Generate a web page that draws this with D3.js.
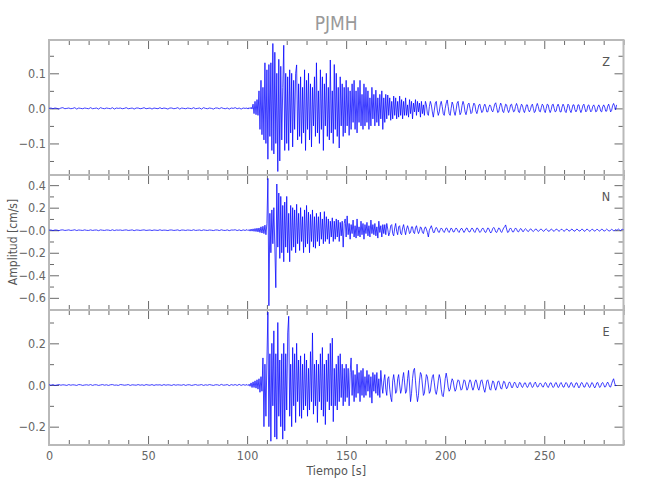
<!DOCTYPE html>
<html><head><meta charset="utf-8">
<script src="https://cdn.jsdelivr.net/npm/d3@7"></script>
<style>
body{margin:0;background:#fff}
text{font-family:"DejaVu Sans","Liberation Sans",sans-serif;font-stretch:condensed;}
</style>
</head><body><svg id="c" width="650" height="500"></svg>
<script>
// ---------- data ----------
const title = "PJMH";
const xLabel = "Tiempo [s]";
const yLabel = "Amplitud [cm/s]";
const components = ["Z", "N", "E"];
const quietStep = 1;        // seconds, samples 0..99 s
const activeStart = 100;    // seconds
const activeStep = 0.5;     // seconds

const zQuiet = [0,0.001,-0.001,0.001,0,-0.002,0.001,0.002,-0.001,0,
0.001,-0.001,0,0.002,-0.002,0.001,0,-0.001,0.001,0,
-0.001,0.002,-0.001,0,0.001,-0.002,0.002,0,-0.001,0.001,
0,-0.001,0.002,-0.002,0.001,0,0.001,-0.001,0,0.002,
-0.001,0,0.001,-0.002,0.001,0.001,-0.001,0,0.002,-0.001,
0,0.001,-0.002,0.001,0,-0.001,0.002,-0.001,0.001,0,
-0.002,0.001,0.001,-0.001,0,0.002,-0.002,0.001,0,-0.001,
0.001,0,-0.001,0.002,-0.001,0,0.001,-0.002,0.002,0,
-0.001,0.001,0,-0.002,0.001,0.001,-0.001,0.002,0,-0.001,
0.001,-0.002,0.001,0,0.002,-0.001,0.001,-0.002,0.001,0];
const zActive = [0.001,-0.002,0.002,-0.001,0.003,-0.002,0.012,-0.015,0.02,-0.018,
0.025,-0.02,0.05,-0.06,0.08,-0.075,0.06,-0.09,0.13,-0.1,
0.11,-0.145,0.125,-0.08,0.13,-0.12,0.185,-0.13,0.16,-0.1,
0.1,-0.18,0.14,-0.15,0.12,-0.09,0.06,0.18,-0.12,0.1,
-0.1,0.09,-0.12,0.11,-0.07,0.1,-0.11,0.08,-0.06,0.1,
0.124,-0.09,0.07,-0.08,0.09,-0.1,0.06,-0.07,0.11,-0.12,
0.08,-0.06,0.1,-0.09,0.07,-0.11,0.06,-0.05,0.09,-0.08,
0.13,-0.07,0.05,-0.1,0.11,-0.06,0.09,-0.12,0.07,-0.05,
0.1,-0.08,0.06,-0.09,0.138,-0.07,0.05,-0.1,0.125,-0.06,
0.1,-0.08,0.06,-0.113,0.09,-0.05,0.07,-0.08,0.06,-0.07,
0.08,-0.05,0.06,-0.077,0.05,-0.06,0.07,-0.04,0.08,-0.06,
0.05,-0.07,0.06,-0.04,0.08,-0.05,0.04,-0.06,0.07,-0.05,
0.06,-0.04,0.05,-0.06,0.03,-0.05,0.06,-0.03,0.04,-0.05,
0.052,-0.04,0.03,-0.05,0.04,-0.03,0.05,-0.06,0.03,-0.04,
0.04,-0.03,0.038,-0.02,0.03,-0.034,0.02,-0.03,0.035,-0.02,
0.03,-0.03,0.02,-0.025,0.035,-0.02,0.025,-0.03,0.02,-0.02,
0.03,-0.02,0.01,-0.025,0.025,-0.015,0.02,-0.03,0.015,-0.01,
0.025,-0.02,0.02,-0.01,0.015,-0.025,0.02,-0.015,0.01,-0.02,
0.02,0.01,-0.015,-0.02,0.005,0.02,0.01,-0.01,-0.025,-0.005,
0.015,0.02,-0.005,-0.02,-0.01,0.01,0.02,0.005,-0.015,-0.02,
0.0,0.015,0.024,0.005,-0.015,-0.02,0.0,0.018,0.01,-0.01,
-0.02,-0.005,0.015,0.02,0.0,-0.018,-0.012,0.008,0.02,0.01,
-0.01,-0.018,-0.005,0.012,0.015,0.0,-0.015,-0.012,0.005,0.015,
0.01,-0.008,-0.015,-0.003,0.01,0.012,-0.002,-0.012,-0.008,0.006,
0.012,0.004,-0.01,-0.01,0.003,0.01,0.006,-0.006,-0.01,0.0,
0.012,0.016,0.002,-0.012,-0.01,0.005,0.015,0.008,-0.008,-0.012,
0.0,0.012,0.01,-0.004,-0.012,-0.004,0.01,0.012,0.0,-0.01,
-0.008,0.006,0.014,0.006,-0.01,-0.012,0.002,0.012,0.008,-0.006,
-0.012,-0.002,0.01,0.01,-0.004,-0.01,-0.004,0.008,0.012,0.0,
-0.012,-0.008,0.006,0.014,0.005,-0.008,-0.01,0.002,0.012,0.008,
-0.006,-0.012,0.0,0.012,0.01,-0.004,-0.012,-0.004,0.01,0.012,
0.0,-0.01,-0.008,0.006,0.012,0.004,-0.01,-0.01,0.004,0.012,
0.006,-0.008,-0.012,0.0,0.012,0.008,-0.006,-0.012,-0.002,0.01,
0.01,-0.004,-0.01,-0.004,0.01,0.01,-0.004,-0.012,-0.004,0.008,
0.012,0.0,-0.01,-0.006,0.008,0.01,-0.002,-0.01,-0.006,0.006,
0.01,0.002,-0.01,-0.008,0.004,0.01,0.004,-0.008,-0.01,0.004,
0.01,0.004,-0.008,-0.008,0.006,0.012,0.002,-0.01,-0.006,0.008,
0.014,0.006,-0.004,0.01];

const nQuiet = [0,0.002,-0.003,0.002,0.001,-0.004,0.002,0.003,-0.002,0,
0.003,-0.002,0,0.004,-0.003,0.002,0,-0.002,0.003,-0.001,
-0.002,0.003,-0.002,0.001,0.002,-0.004,0.003,0,-0.002,0.002,
0.001,-0.003,0.004,-0.003,0.002,0,0.002,-0.002,0.001,0.003,
-0.002,0,0.003,-0.004,0.002,0.001,-0.002,0.001,0.003,-0.002,
0,0.002,-0.003,0.002,0,-0.002,0.004,-0.002,0.001,0,
-0.003,0.002,0.002,-0.002,0,0.003,-0.004,0.002,0.001,-0.002,
0.002,0,-0.002,0.004,-0.002,0,0.002,-0.003,0.003,0,
-0.002,0.002,0,-0.003,0.002,0.002,-0.003,0.004,-0.001,-0.002,
0.003,-0.004,0.002,0.001,0.004,-0.003,0.003,-0.004,0.003,-0.002];
const nActive = [0.005,-0.004,0.006,-0.008,0.01,-0.008,0.012,-0.01,0.015,-0.012,
0.018,-0.015,0.02,-0.02,0.03,-0.025,0.035,-0.03,0.045,-0.04,
0.06,0.46,-0.67,0.15,-0.2,0.18,-0.12,0.2,-0.15,-0.51,
0.41,-0.15,0.33,-0.25,0.3,-0.2,0.22,-0.28,0.25,-0.15,
0.3,-0.2,0.15,-0.28,0.22,-0.18,0.2,-0.15,0.18,-0.2,
0.23,-0.12,0.15,-0.18,0.2,-0.1,0.12,-0.2,0.18,-0.15,
0.22,-0.12,0.16,-0.2,0.14,-0.1,0.18,-0.15,0.12,-0.16,
0.15,-0.1,0.12,-0.14,0.16,-0.08,0.1,-0.12,0.165,-0.1,
0.12,-0.08,0.1,-0.12,0.08,-0.06,0.11,-0.1,0.08,-0.08,
0.1,-0.06,0.09,-0.1,0.07,-0.05,0.08,-0.15,0.06,0.1,
-0.06,0.127,-0.04,0.06,-0.08,0.05,-0.03,0.09,-0.06,0.04,
-0.07,0.1,-0.05,0.03,-0.06,0.08,-0.04,0.06,-0.08,0.05,
-0.03,0.07,-0.05,0.04,-0.06,0.09,-0.03,0.05,-0.04,0.06,
-0.05,0.03,-0.07,0.08,-0.02,0.04,-0.06,0.05,-0.03,0.05,
-0.04,0.06,0.01,-0.05,-0.02,0.04,0.05,-0.03,-0.05,0.02,
0.06,-0.01,-0.04,0.03,0.04,-0.03,-0.04,0.02,0.05,0.0,
-0.04,0.01,0.04,0.01,-0.03,-0.02,0.03,0.03,-0.02,-0.03,
0.02,0.04,0.0,-0.03,-0.01,0.03,0.02,-0.02,-0.03,0.01,
0.03,0.01,-0.02,-0.06,0.0,0.02,0.04,0.01,-0.02,-0.02,
0.01,0.025,0.01,-0.015,-0.02,0.005,0.02,0.01,-0.01,-0.02,
0.0,0.02,0.015,-0.01,-0.02,0.0,0.02,0.01,-0.015,-0.015,
0.005,0.02,0.01,-0.01,-0.02,0.0,0.015,0.015,-0.005,-0.02,
-0.005,0.015,0.02,0.0,-0.015,-0.015,0.005,0.02,0.01,-0.01,
-0.02,0.0,0.02,0.015,-0.005,-0.02,-0.01,0.01,0.02,0.005,
-0.015,-0.02,0.0,0.02,0.015,-0.01,-0.025,-0.01,0.015,0.025,
0.01,-0.015,-0.02,0.0,0.02,0.015,-0.01,-0.02,0.0,0.02,
0.03,0.047,0.01,-0.02,-0.015,0.01,0.02,0.005,-0.015,-0.015,
0.005,0.02,0.01,-0.01,-0.015,0.0,0.015,0.01,-0.01,-0.012,
0.004,0.014,0.006,-0.008,-0.012,0.0,0.012,0.008,-0.006,-0.012,
-0.002,0.01,0.01,-0.004,-0.01,-0.004,0.008,0.01,0.0,-0.01,
-0.006,0.006,0.012,0.004,-0.008,-0.01,0.002,0.01,0.006,-0.006,
-0.01,0.0,0.01,0.008,-0.004,-0.01,-0.002,0.008,0.008,-0.002,
-0.01,-0.004,0.008,0.01,0.0,-0.008,-0.006,0.006,0.01,0.002,
-0.008,-0.008,0.004,0.01,0.004,-0.006,-0.008,0.002,0.01,0.006,
-0.006,-0.01,0.0,0.01,0.006,-0.004,-0.01,-0.002,0.008,0.008,
-0.004,-0.008,-0.002,0.008,0.006,-0.004,-0.008,0.0,0.01,0.006,
-0.006,-0.008,0.002,0.01,0.004,-0.006,-0.008,0.002,0.008,0.004,
-0.006,-0.004,0.006,0.0,0.004,0.01,0.002,-0.004,0.006,0.008,
0.004];

const eQuiet = [0.001,-0.001,0.002,-0.002,0,0.002,-0.001,0.001,0,-0.002,
0.002,-0.001,0.001,0,-0.002,0.002,0.001,-0.002,0,0.001,
-0.001,0.002,-0.002,0.001,0.001,-0.002,0,0.002,-0.001,0.001,
-0.002,0.001,0.002,-0.001,0,-0.002,0.002,0.001,-0.001,0,
0.002,-0.002,0.001,0,-0.001,0.002,-0.001,0.001,-0.002,0.002,
0,-0.001,0.002,-0.002,0.001,0,0.001,-0.002,0.002,-0.001,
0.001,0,-0.002,0.002,-0.001,0.001,0,-0.001,0.002,-0.002,
0.001,0.001,-0.002,0,0.002,-0.001,0,0.002,-0.002,0.001,
-0.001,0.002,0,-0.002,0.001,0.001,-0.002,0.003,-0.001,0,
0.002,-0.003,0.002,-0.001,0.002,-0.002,0.003,-0.002,0.002,-0.001];
const eActive = [0.002,-0.003,0.004,-0.006,0.01,-0.012,0.015,-0.012,0.02,-0.015,
0.025,-0.02,0.03,-0.035,0.04,-0.03,0.13,-0.2,0.1,-0.15,
0.12,0.35,-0.2,0.15,-0.27,0.2,-0.1,0.26,-0.25,0.15,
-0.26,0.3,-0.15,0.12,-0.2,0.15,-0.26,0.2,-0.22,0.15,
-0.12,0.25,0.33,-0.15,0.1,-0.2,0.18,-0.1,0.15,-0.18,
0.2,-0.08,0.12,-0.15,0.14,-0.16,0.1,-0.12,0.15,-0.1,
0.12,-0.15,0.08,-0.12,0.16,-0.08,0.25,-0.14,0.1,-0.1,
0.12,-0.18,0.1,-0.08,0.15,-0.12,0.18,-0.15,0.1,-0.19,
0.12,-0.08,0.15,-0.12,0.2,-0.1,0.225,-0.176,0.08,-0.1,
0.1,-0.12,0.14,-0.08,0.15,-0.06,0.1,-0.1,0.08,-0.08,
0.1,-0.06,0.08,-0.1,0.06,0.13,-0.05,0.07,-0.08,0.05,
-0.06,0.1,-0.04,0.06,-0.08,0.07,-0.05,0.08,-0.06,0.04,
-0.05,0.07,-0.03,0.05,-0.06,0.04,-0.087,0.06,-0.03,0.05,
-0.04,0.06,-0.05,0.03,-0.06,0.07,0.0,-0.04,0.02,0.05,
-0.02,-0.05,0.03,0.04,-0.02,-0.06,-0.08,0.02,0.05,0.01,
-0.04,-0.03,0.03,0.05,0.0,-0.04,-0.02,0.03,0.06,0.01,
-0.04,-0.03,0.03,0.07,0.0,-0.08,-0.04,0.03,0.07,0.08,
0.02,-0.04,-0.08,-0.05,0.02,0.06,0.05,0.0,-0.05,-0.04,
0.01,0.05,0.04,0.0,-0.04,-0.03,0.01,0.04,0.05,0.01,
-0.03,-0.045,-0.02,0.02,0.05,0.03,-0.02,-0.05,-0.056,-0.02,
0.03,0.057,0.03,-0.01,-0.03,-0.02,0.01,0.03,0.02,-0.01,
-0.03,-0.02,0.01,0.025,0.02,-0.005,-0.025,-0.02,0.005,0.025,
0.02,-0.005,-0.025,-0.015,0.01,0.025,0.015,-0.01,-0.025,-0.01,
0.015,0.025,0.01,-0.015,-0.025,-0.005,0.02,0.025,0.005,-0.02,
-0.035,-0.01,0.02,0.025,0.005,-0.02,-0.025,0.0,0.02,0.015,
-0.01,-0.025,-0.01,0.015,0.02,0.005,-0.015,-0.02,0.0,0.018,
0.015,-0.005,-0.018,-0.01,0.008,0.015,0.005,-0.012,-0.012,0.004,
0.014,0.008,-0.008,-0.014,-0.002,0.012,0.01,-0.006,-0.012,-0.002,
0.01,0.01,-0.004,-0.012,-0.004,0.01,0.012,-0.002,-0.012,-0.006,
0.008,0.014,0.002,-0.01,-0.008,0.004,0.01,0.004,-0.008,-0.01,
0.002,0.012,0.008,-0.006,-0.012,-0.002,0.01,0.01,-0.004,-0.012,
-0.006,0.008,0.012,0.0,-0.012,-0.008,0.006,0.012,0.002,-0.01,
-0.01,0.004,0.012,0.006,-0.008,-0.012,0.0,0.012,0.008,-0.006,
-0.012,-0.002,0.01,0.01,-0.004,-0.014,-0.006,0.008,0.012,0.002,
-0.01,-0.01,0.004,0.012,0.006,-0.008,-0.012,0.0,0.012,0.008,
-0.006,-0.014,-0.004,0.01,0.012,-0.002,-0.012,-0.006,0.008,0.012,
0.002,-0.01,-0.008,0.006,0.014,0.004,-0.008,-0.01,0.006,0.02,
0.03,0.01,-0.005,0.0];

// axis ticks
const xDomain = [0, 290];
const xMajorTicks = [0, 50, 100, 150, 200, 250];
const xMajorLabels = ["0", "50", "100", "150", "200", "250"];
const xMinorTicks = [10,20,30,40,60,70,80,90,110,120,130,140,160,170,180,190,210,220,230,240,260,270,280,290];

const zDomain = [-0.19, 0.195];
const zTicks = [0.1, 0.0, -0.1];
const zTickLabels = ["0.1", "0.0", "\u22120.1"];
const zMinor = [0.15, 0.05, -0.05, -0.15];

const nDomain = [-0.708, 0.49];
const nTicks = [0.4, 0.2, 0.0, -0.2, -0.4, -0.6];
const nTickLabels = ["0.4", "0.2", "\u22120.0", "\u22120.2", "\u22120.4", "\u22120.6"];
const nMinor = [0.3, 0.1, -0.1, -0.3, -0.5, -0.7];

const eDomain = [-0.288, 0.36];
const eTicks = [0.2, 0.0, -0.2];
const eTickLabels = ["0.2", "0.0", "\u22120.2"];
const eMinor = [0.3, 0.1, -0.1];

// ---------- drawing ----------
const svg = d3.select("#c");
const left = 49, right = 623.5;
const panelTops = [40, 175, 310];
const panelH = 135;
const x = d3.scaleLinear().domain(xDomain).range([left, right]);

const frameColor = "#b9b9b9", tickColor = "#6a6a6a", textColor = "#666";
const fontFam = '"DejaVu Sans","Liberation Sans",sans-serif';

const panels = [
  {name: components[0], quiet: zQuiet, active: zActive, dom: zDomain, ticks: zTicks, labels: zTickLabels, minor: zMinor},
  {name: components[1], quiet: nQuiet, active: nActive, dom: nDomain, ticks: nTicks, labels: nTickLabels, minor: nMinor},
  {name: components[2], quiet: eQuiet, active: eActive, dom: eDomain, ticks: eTicks, labels: eTickLabels, minor: eMinor}
];

function styleAxis(g) {
  g.select(".domain").remove();
  g.selectAll(".tick line").attr("stroke", tickColor).attr("stroke-width", 1);
  g.selectAll(".tick text").attr("fill", textColor).style("font-size", "12.5px")
    .style("font-family", fontFam).style("font-stretch", "condensed");
}

const traceLayer = [];
panels.forEach((p, i) => {
  const top = panelTops[i], bot = top + panelH;
  const y = d3.scaleLinear().domain(p.dom).range([bot, top]);
  const g = svg.append("g");

  // left axis
  g.append("g").attr("transform", `translate(${left},0)`)
    .call(d3.axisLeft(y).tickValues(p.ticks).tickFormat((d, k) => p.labels[k]).tickSizeInner(-10).tickSizeOuter(0).tickPadding(3))
    .call(styleAxis);
  g.append("g").attr("transform", `translate(${left},0)`)
    .call(d3.axisLeft(y).tickValues(p.minor).tickFormat("").tickSizeInner(-5).tickSizeOuter(0))
    .call(styleAxis);
  // right axis
  g.append("g").attr("transform", `translate(${right},0)`)
    .call(d3.axisRight(y).tickValues(p.ticks).tickFormat("").tickSizeInner(-9).tickSizeOuter(0))
    .call(styleAxis);
  g.append("g").attr("transform", `translate(${right},0)`)
    .call(d3.axisRight(y).tickValues(p.minor).tickFormat("").tickSizeInner(-5).tickSizeOuter(0))
    .call(styleAxis);
  // top axis
  g.append("g").attr("transform", `translate(0,${top})`)
    .call(d3.axisTop(x).tickValues(xMajorTicks).tickFormat("").tickSizeInner(-9).tickSizeOuter(0))
    .call(styleAxis);
  g.append("g").attr("transform", `translate(0,${top})`)
    .call(d3.axisTop(x).tickValues(xMinorTicks).tickFormat("").tickSizeInner(-5).tickSizeOuter(0))
    .call(styleAxis);
  // bottom axis
  g.append("g").attr("transform", `translate(0,${bot})`)
    .call(d3.axisBottom(x).tickValues(xMajorTicks)
      .tickFormat((d, k) => i === 2 ? xMajorLabels[k] : "").tickSizeInner(-9).tickSizeOuter(0).tickPadding(6))
    .call(styleAxis);
  g.append("g").attr("transform", `translate(0,${bot})`)
    .call(d3.axisBottom(x).tickValues(xMinorTicks).tickFormat("").tickSizeInner(-5).tickSizeOuter(0))
    .call(styleAxis);

  // frame
  g.append("rect").attr("x", left).attr("y", top).attr("width", right - left).attr("height", panelH)
    .attr("fill", "none").attr("stroke", frameColor).attr("stroke-width", 2);

  // component label
  g.append("text").attr("x", 606).attr("y", top + 26).attr("text-anchor", "middle")
    .attr("fill", "#555").style("font-size", "12.5px").text(p.name);

  const pts = p.quiet.map((v, k) => ({t: k * quietStep, v}))
    .concat(p.active.map((v, k) => ({t: activeStart + k * activeStep, v})));
  traceLayer.push({pts, y});
});

// traces on top
traceLayer.forEach(tr => {
  const line = d3.line().x(d => x(d.t)).y(d => tr.y(d.v));
  svg.append("path").datum(tr.pts).attr("d", line)
    .attr("fill", "none").attr("stroke", "#0000ff").attr("stroke-width", 0.75)
    .attr("stroke-linejoin", "miter");
});

// titles
svg.append("text").attr("x", (left + right) / 2).attr("y", 30).attr("text-anchor", "middle")
  .attr("fill", "#999").style("font-size", "19px").text(title);
svg.append("text").attr("x", (left + right) / 2).attr("y", 475).attr("text-anchor", "middle")
  .attr("fill", "#555").style("font-size", "12.5px").text(xLabel);
svg.append("text").attr("transform", "translate(17,242) rotate(-90)").attr("text-anchor", "middle")
  .attr("fill", "#555").style("font-size", "12px").text(yLabel);
</script>
</body></html>
